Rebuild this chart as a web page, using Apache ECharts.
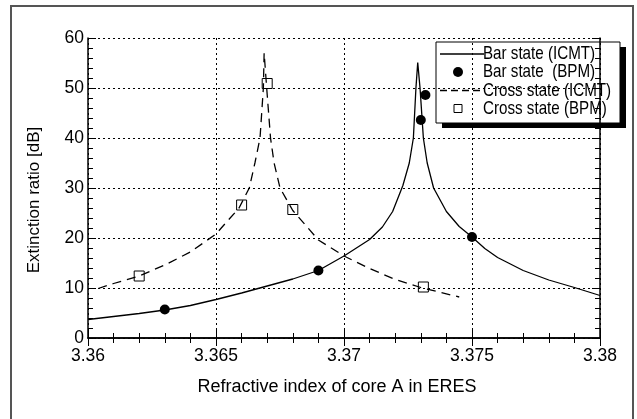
<!DOCTYPE html>
<html>
<head>
<meta charset="utf-8">
<script src="https://cdn.jsdelivr.net/npm/echarts@6/dist/echarts.min.js"></script>
<style>
  html, body { margin: 0; padding: 0; background: #fff; }
  #chart { width: 637px; height: 419px; }
</style>
</head>
<body>
<div id="chart"></div>
<script>
// Bar state (ICMT) curve
var barIcmtX = [3.360, 3.361, 3.362, 3.363, 3.364, 3.365, 3.366, 3.367, 3.368, 3.369, 3.370, 3.371, 3.3715, 3.3719, 3.3723, 3.37255, 3.37271, 3.37281, 3.37288, 3.37297, 3.3731, 3.37325, 3.3735, 3.374, 3.3745, 3.375, 3.3755, 3.376, 3.377, 3.378, 3.379, 3.380];
var barIcmtY = [3.7, 4.3, 4.9, 5.6, 6.5, 7.7, 9.0, 10.4, 11.8, 13.5, 16.4, 19.7, 22.2, 25.3, 30.5, 35.0, 40.0, 50.0, 55.1, 50.0, 40.0, 35.0, 30.0, 25.3, 22.3, 20.2, 17.9, 16.1, 13.5, 11.6, 10.1, 8.5];

// Cross state (ICMT) curve
var crossIcmtX = [3.3604, 3.361, 3.362, 3.363, 3.364, 3.365, 3.3659, 3.3663, 3.36652, 3.36672, 3.36685, 3.36688, 3.36698, 3.36713, 3.36727, 3.3675, 3.368, 3.369, 3.370, 3.371, 3.372, 3.373, 3.3745];
var crossIcmtY = [9.9, 10.9, 12.4, 14.6, 17.2, 20.8, 26.0, 30.0, 35.0, 40.0, 50.0, 57.0, 50.0, 40.0, 35.0, 30.0, 25.5, 19.6, 16.4, 13.9, 11.7, 10.1, 8.2];

// BPM points
var barBpmX = [3.363, 3.369, 3.3730, 3.37318, 3.375];
var barBpmY = [5.7, 13.5, 43.6, 48.6, 20.2];
var crossBpmX = [3.362, 3.366, 3.367, 3.368, 3.3731];
var crossBpmY = [12.4, 26.6, 50.9, 25.7, 10.2];

var xTicks = { min: 3.36, max: 3.38, interval: 0.005 };
var yTicks = { min: 0, max: 60, interval: 10 };

var legendNames = ['Bar state (ICMT)', 'Bar state  (BPM)', 'Cross state (ICMT)', 'Cross state (BPM)'];

function pairs(xs, ys) {
  return xs.map(function (x, i) { return [x, ys[i]]; });
}

var myChart = echarts.init(document.getElementById('chart'), null, { renderer: 'canvas' });

var axisFont = 'Liberation Sans, Arial, sans-serif';
// no narrow font installed -> squeeze the regular one
var legendFont = '18.5px "Liberation Sans", Arial, sans-serif';

var axisCommon = {
  axisLine: { lineStyle: { color: '#000', width: 1.5 } },
  axisTick: { inside: true, length: 8, lineStyle: { color: '#000', width: 1 } },
  minorTick: { show: true, splitNumber: 5, length: 5, lineStyle: { color: '#000', width: 1 } }
};

// hand drawn legend box (shadowed, like the original figure)
var lx = 436, ly = 42, lw = 184, lh = 81;
var rowY = [54, 72, 90.5, 108.5];
var legendGraphic = {
  type: 'group',
  z: 100,
  children: [
    { type: 'rect', shape: { x: lx + 6, y: ly + 5, width: lw, height: lh }, style: { fill: '#000' } },
    { type: 'rect', shape: { x: lx, y: ly, width: lw, height: lh }, style: { fill: '#fff', stroke: '#000', lineWidth: 1 } },
    { type: 'line', shape: { x1: 440, y1: rowY[0], x2: 484, y2: rowY[0] }, style: { stroke: '#000', lineWidth: 1.3 } },
    { type: 'circle', shape: { cx: 458, cy: rowY[1], r: 5 }, style: { fill: '#000' } },
    { type: 'line', shape: { x1: 440, y1: rowY[2], x2: 480, y2: rowY[2] }, style: { stroke: '#000', lineWidth: 1.3, lineDash: [7, 4] } },
    { type: 'rect', shape: { x: 454, y: rowY[3] - 4, width: 8, height: 8 }, style: { fill: '#fff', stroke: '#000', lineWidth: 1 } }
  ].concat(legendNames.map(function (n, i) {
    return {
      type: 'text', x: 483, y: rowY[i], scaleX: 0.82,
      style: { text: n, font: legendFont, fill: '#000', verticalAlign: 'middle' }
    };
  }))
};

var option = {
  animation: false,
  backgroundColor: '#fff',
  textStyle: { fontFamily: axisFont },
  grid: { left: 88, right: 37, top: 38, bottom: 81 },
  graphic: [{
    type: 'rect',
    shape: { x: 11, y: 6, width: 622, height: 430 },
    style: { fill: 'none', stroke: '#555', lineWidth: 2 },
    silent: true,
    z: -1
  }, legendGraphic],
  xAxis: [Object.assign({}, axisCommon, {
    type: 'value',
    position: 'bottom',
    min: xTicks.min, max: xTicks.max, interval: xTicks.interval,
    name: 'Refractive index of core A in ERES',
    nameLocation: 'middle',
    nameGap: 40,
    nameTextStyle: { color: '#000', fontSize: 18, padding: [0, 14, 0, 0] },
    axisLabel: { color: '#000', fontSize: 17.5, margin: 9 },
    splitLine: { show: true, lineStyle: { color: '#000', width: 1, type: [2, 3] } }
  }), Object.assign({}, axisCommon, {
    type: 'value',
    position: 'top',
    min: xTicks.min, max: xTicks.max, interval: xTicks.interval,
    axisLabel: { show: false },
    splitLine: { show: false }
  })],
  yAxis: [Object.assign({}, axisCommon, {
    type: 'value',
    position: 'left',
    min: yTicks.min, max: yTicks.max, interval: yTicks.interval,
    name: 'Extinction ratio [dB]',
    nameLocation: 'middle',
    nameGap: 45,
    nameTextStyle: { color: '#000', fontSize: 17, padding: [0, 24, 0, 0] },
    axisLabel: { color: '#000', fontSize: 17.5, margin: 4 },
    splitLine: { show: true, lineStyle: { color: '#000', width: 1, type: [2, 3] } }
  }), Object.assign({}, axisCommon, {
    type: 'value',
    position: 'right',
    min: yTicks.min, max: yTicks.max, interval: yTicks.interval,
    axisLabel: { show: false },
    splitLine: { show: false }
  })],
  series: [{
    name: legendNames[0],
    type: 'line',
    data: pairs(barIcmtX, barIcmtY),
    symbol: 'none',
    lineStyle: { color: '#000', width: 1.3 },
    z: 2
  }, {
    name: legendNames[1],
    type: 'scatter',
    data: pairs(barBpmX, barBpmY),
    symbol: 'circle',
    symbolSize: 10,
    itemStyle: { color: '#000', opacity: 1 },
    z: 3
  }, {
    name: legendNames[2],
    type: 'line',
    data: pairs(crossIcmtX, crossIcmtY),
    symbol: 'none',
    lineStyle: { color: '#000', width: 1.3, type: [9, 6] },
    z: 2
  }, {
    name: legendNames[3],
    type: 'scatter',
    data: pairs(crossBpmX, crossBpmY),
    symbol: 'rect',
    symbolSize: 10,
    itemStyle: { color: 'rgba(255,255,255,0)', borderColor: '#000', borderWidth: 1, opacity: 1 },
    z: 3
  }]
};
myChart.setOption(option);
</script>
</body>
</html>
